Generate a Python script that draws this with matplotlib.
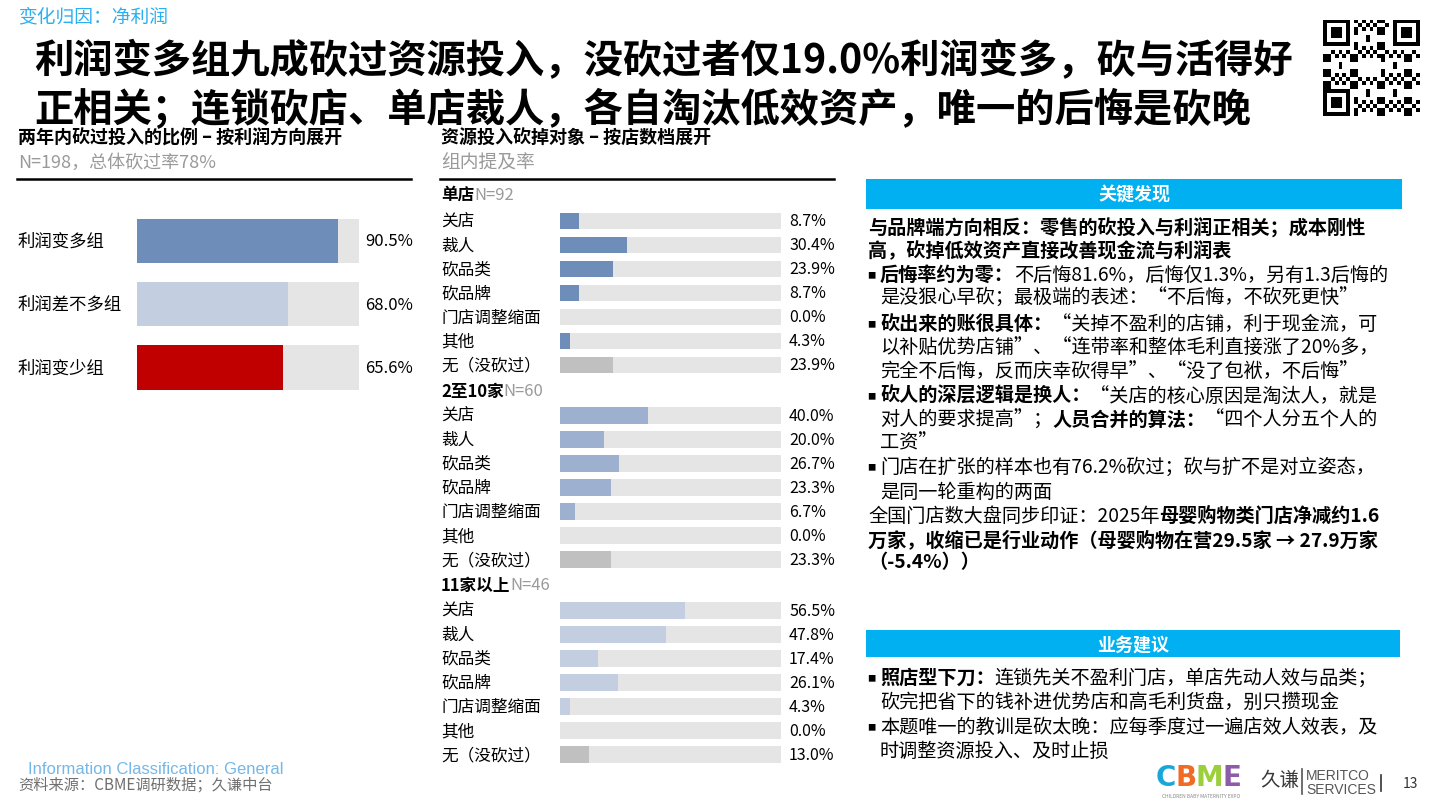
"""
Slide: profit change vs. cutting resource inputs (CBME retail survey)
"""
import numpy as np
import matplotlib.pyplot as plt
from matplotlib import transforms
from matplotlib.patches import Rectangle
from matplotlib.lines import Line2D

plt.rcParams['font.family'] = ['Noto Sans CJK SC', 'DejaVu Sans']

W, H = 1438, 803

# ---- data ----
profit_groups = ['利润变多组', '利润差不多组', '利润变少组']
profit_cut_rate = [90.5, 68.0, 65.6]
profit_colors = ['#6f8db9', '#c3cfe1', '#c00000']

cut_items = ['关店', '裁人', '砍品类', '砍品牌', '门店调整缩面', '其他', '无（没砍过）']
tier_names = ['单店', '2至10家', '11家以上']
tier_n = ['N=92', 'N=60', 'N=46']
single_store = [8.7, 30.4, 23.9, 8.7, 0.0, 4.3, 23.9]
mid_chain = [40.0, 20.0, 26.7, 23.3, 6.7, 0.0, 23.3]
big_chain = [56.5, 47.8, 17.4, 26.1, 4.3, 0.0, 13.0]
tier_values = [single_store, mid_chain, big_chain]
tier_colors = ['#6f8db9', '#9db0cf', '#c3cfe1']

BG = '#e5e5e5'
NONE_COLOR = '#c0c0c0'
GREY = '#9a9a9a'
BLUE = '#00b0f0'

fig = plt.figure(figsize=(W / 100, H / 100), dpi=100)
renderer = fig.canvas.get_renderer()


def fx(x):
    return x / W


def fy(y):
    return 1 - y / H


def put(x, y, s, size, color='black', bold=False, ha='left', **kw):
    return fig.text(fx(x), fy(y), s, fontsize=size, color=color,
                    fontweight='bold' if bold else 'normal',
                    ha=ha, va='center', **kw)


def put_parts(x, y, parts, size):
    # parts: (text, bold, color)
    for s, bold, color in parts:
        t = put(x, y, s, size, color, bold)
        x += t.get_window_extent(renderer).width


def bullet(y):
    put(867, y + 1, '■', 6)


def hline(x0, x1, y, lw=1.8, color='black'):
    fig.add_artist(Line2D([fx(x0), fx(x1)], [fy(y), fy(y)], color=color, lw=lw))


def box(x0, y0, x1, y1, color):
    fig.add_artist(Rectangle((fx(x0), fy(y1)), (x1 - x0) / W, (y1 - y0) / H,
                             transform=fig.transFigure, color=color, lw=0))


def bar_axes(left, top, right, bottom):
    ax = fig.add_axes([fx(left), fy(bottom), (right - left) / W, (bottom - top) / H])
    ax.set_axis_off()
    return ax


# ---- header ----
put(18, 17, '变化归因：净利润', 13.5, color='#29b0f0')
put(34, 62, '利润变多组九成砍过资源投入，没砍过者仅19.0%利润变多，砍与活得好', 28.3, bold=True)
put(34, 110, '正相关；连锁砍店、单店裁人，各自淘汰低效资产，唯一的后悔是砍晚', 28.3, bold=True)

# QR code placeholder
qr = bar_axes(1323, 20, 1420, 118)
n = 25
i, j = np.indices((n, n))
m = ((i * i * 3 + j * j * 5 + i * j * 7 + i + 2 * j) % 7 < 3).astype(float)
for r0, c0 in [(0, 0), (0, n - 7), (n - 7, 0)]:
    m[r0:r0 + 8, c0 - (1 if c0 else 0):c0 + 8] = 0
    m[r0:r0 + 7, c0:c0 + 7] = 1
    m[r0 + 1:r0 + 6, c0 + 1:c0 + 6] = 0
    m[r0 + 2:r0 + 5, c0 + 2:c0 + 5] = 1
m[10:15, 10:15] = 0
qr.imshow(m, cmap='gray_r', interpolation='nearest')
qr.set_axis_off()

# ---- left chart ----
put(18, 138, '两年内砍过投入的比例 – 按利润方向展开', 13, bold=True)
put(18, 163, 'N=198，总体砍过率78%', 13, color=GREY)
hline(17, 411, 180)

ax = bar_axes(137, 210, 359, 400)
y = np.arange(len(profit_groups))
ax.barh(y, [100] * len(y), height=0.7, color=BG)
ax.barh(y, profit_cut_rate, height=0.7, color=profit_colors)
ax.set_xlim(0, 100)
ax.set_ylim(len(y) - 0.5, -0.5)
tr = transforms.blended_transform_factory(fig.transFigure, ax.transData)
for k, (lab, v) in enumerate(zip(profit_groups, profit_cut_rate)):
    ax.text(fx(18), k, lab, transform=tr, fontsize=12.5, va='center')
    ax.text(fx(365), k, f'{v:.1f}%', transform=tr, fontsize=12, va='center')

# ---- middle chart ----
put(441, 138, '资源投入砍掉对象 – 按店数档展开', 13, bold=True)
put(441, 163, '组内提及率', 13.5, color=GREY)
hline(440, 834, 180)

tier_tops = [210, 404, 599]
tier_bottoms = [378, 573, 768]
tier_head_y = [195, 392, 586]
for name, nn, vals, col, top, bot, hy in zip(tier_names, tier_n, tier_values, tier_colors,
                                              tier_tops, tier_bottoms, tier_head_y):
    put_parts(441, hy, [(name, True, 'black'), (nn, False, GREY)], 12)
    ax = bar_axes(560, top, 781, bot)
    yy = np.arange(len(cut_items))
    colors = [col] * (len(cut_items) - 1) + [NONE_COLOR]
    ax.barh(yy, [100] * len(yy), height=0.7, color=BG)
    ax.barh(yy, vals, height=0.7, color=colors)
    ax.set_xlim(0, 100)
    ax.set_ylim(len(yy) - 0.5, -0.5)
    tr = transforms.blended_transform_factory(fig.transFigure, ax.transData)
    for k, (lab, v) in enumerate(zip(cut_items, vals)):
        ax.text(fx(441), k, lab, transform=tr, fontsize=12, va='center')
        ax.text(fx(789), k, f'{v:.1f}%', transform=tr, fontsize=11.5, va='center')

# ---- right panel: key findings ----
box(866, 180, 1402, 210, BLUE)
put(1134, 195, '关键发现', 13, color='white', bold=True, ha='center')

FS = 13.8
K = 'black'
put_parts(868, 228, [('与品牌端方向相反：零售的砍投入与利润正相关；成本刚性', True, K)], FS)
put_parts(868, 251, [('高，砍掉低效资产直接改善现金流与利润表', True, K)], FS)
bullet(275)
put_parts(880, 275, [('后悔率约为零：', True, K), ('不后悔81.6%，后悔仅1.3%，另有1.3后悔的', False, K)], FS)
put_parts(880, 298, [('是没狠心早砍；最极端的表述：“不后悔，不砍死更快”', False, K)], FS)
bullet(324)
put_parts(880, 324, [('砍出来的账很具体：', True, K), ('“关掉不盈利的店铺，利于现金流，可', False, K)], FS)
put_parts(880, 347, [('以补贴优势店铺”、“连带率和整体毛利直接涨了20%多，', False, K)], FS)
put_parts(880, 371, [('完全不后悔，反而庆幸砍得早”、“没了包袱，不后悔”', False, K)], FS)
bullet(396)
put_parts(880, 396, [('砍人的深层逻辑是换人：', True, K), ('“关店的核心原因是淘汰人，就是', False, K)], FS)
put_parts(880, 420, [('对人的要求提高”；', False, K), ('人员合并的算法：', True, K),
                     ('“四个人分五个人的', False, K)], FS)
put_parts(880, 443, [('工资”', False, K)], FS)
bullet(467)
put_parts(880, 467, [('门店在扩张的样本也有76.2%砍过；砍与扩不是对立姿态，', False, K)], FS)
put_parts(880, 492, [('是同一轮重构的两面', False, K)], FS)
put_parts(868, 516, [('全国门店数大盘同步印证：2025年', False, K), ('母婴购物类门店净减约1.6', True, K)], FS)
put_parts(868, 540, [('万家，收缩已是行业动作（母婴购物在营29.5家 → 27.9万家', True, K)], FS)
put_parts(868, 563, [('（-5.4%））', True, K)], FS)

# ---- right panel: suggestions ----
box(866, 631, 1400, 658, BLUE)
put(1133, 645, '业务建议', 13, color='white', bold=True, ha='center')
bullet(678)
put_parts(880, 678, [('照店型下刀：', True, K), ('连锁先关不盈利门店，单店先动人效与品类；', False, K)], FS)
put_parts(880, 702, [('砍完把省下的钱补进优势店和高毛利货盘，别只攒现金', False, K)], FS)
bullet(727)
put_parts(880, 727, [('本题唯一的教训是砍太晚：应每季度过一遍店效人效表，及', False, K)], FS)
put_parts(880, 751, [('时调整资源投入、及时止损', False, K)], FS)

# ---- footer ----
fig.text(fx(28), fy(770), 'Information Classification: General', fontsize=12,
         color='#74b7e8', family='Liberation Sans', va='center')
put(18, 785, '资料来源：CBME调研数据；久谦中台', 11, color='#707070')

logo_x = 1156
for ch, col in zip('CBME', ['#1aa6d8', '#f06c24', '#9ccf3c', '#8e5ba8']):
    t = fig.text(fx(logo_x), fy(778), ch, fontsize=20, fontweight='bold', color=col,
                 family='DejaVu Sans', va='center')
    logo_x += t.get_window_extent(renderer).width - 1
put(1201, 797, 'CHILDREN BABY MATERNITY EXPO', 3.5, color='#888888', ha='center')
put(1260, 781, '久谦', 14, color='#3a3a3a')
fig.add_artist(Line2D([fx(1302), fx(1302)], [fy(770), fy(795)], color='#555555', lw=1.2))
fig.text(fx(1306), fy(776), 'MERITCO', fontsize=10, color='#555555', family='Liberation Sans', va='center')
fig.text(fx(1306), fy(790), 'SERVICES', fontsize=10, color='#555555', family='Liberation Sans', va='center')
fig.add_artist(Line2D([fx(1381), fx(1381)], [fy(776), fy(792)], color='#333333', lw=1.2))
put(1403, 784, '13', 10, color='#333333')

fig.savefig('out.png', dpi=100)
